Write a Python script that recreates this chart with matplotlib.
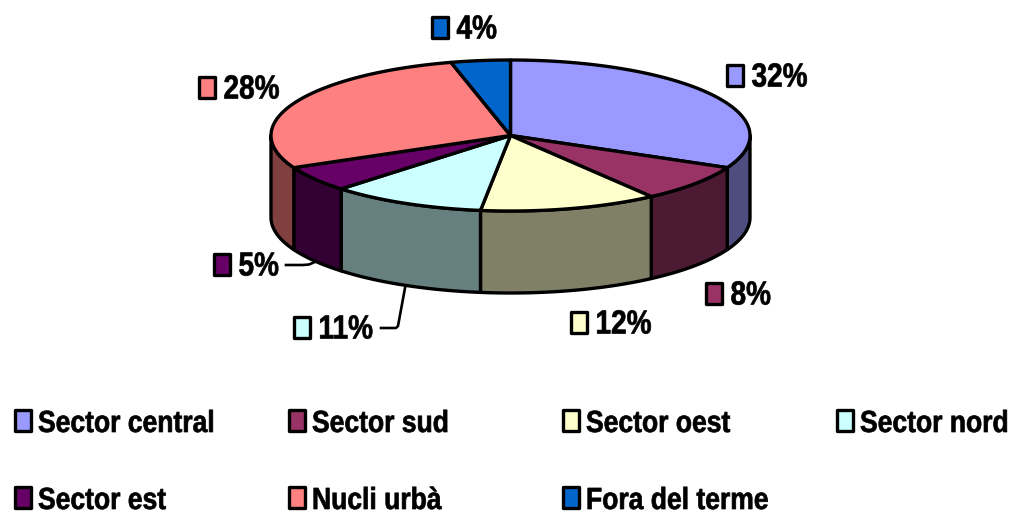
import numpy as np
import matplotlib
matplotlib.use('Agg')
import matplotlib.pyplot as plt
from matplotlib.patheffects import AbstractPathEffect
from matplotlib.transforms import Affine2D

categories = ['Sector central', 'Sector sud', 'Sector oest', 'Sector nord',
              'Sector est', 'Nucli urbà', 'Fora del terme']
values = [32, 8, 12, 10.5, 5.5, 28, 4]
pct_labels = ['32%', '8%', '12%', '11%', '5%', '28%', '4%']
colors = ['#9999FF', '#993366', '#FFFFCC', '#CCFFFF', '#660066', '#FF8080', '#0066CC']
wall_colors = ['#4D4D80', '#4D1A33', '#808066', '#668080', '#330033', '#804040', '#003366']

# pixel positions of the label swatches
label_pos = [(735, 76), (714, 294), (579, 323), (302, 328), (222, 265), (207, 88), (440, 28)]
legend_pos = [(23, 421), (297, 421), (571, 421), (845, 421),
              (23, 498), (297, 498), (571, 498)]

cx, cy, rx, ry, depth = 510.5, 135.5, 239.5, 75.5, 82
lw = 2.4

plt.rcParams['font.family'] = ['Liberation Sans', 'DejaVu Sans']


class Squeeze(AbstractPathEffect):
    # the original font is a narrow heavy one: squeeze glyphs sideways, add a thin outline
    def __init__(self, sx, stroke=0.5):
        super().__init__()
        self.sx = sx
        self.stroke = stroke

    def draw_path(self, renderer, gc, tpath, affine, rgbFace=None):
        gc0 = renderer.new_gc()
        gc0.copy_properties(gc)
        gc0.set_linewidth(self.stroke)
        gc0.set_foreground('black')
        renderer.draw_path(gc0, tpath, Affine2D().scale(self.sx, 1) + affine, rgbFace)
        gc0.restore()


def rim(a, b, n=80):
    t = np.radians(np.linspace(a, b, n))
    return cx + rx * np.sin(t), cy - ry * np.cos(t)


def swatch(ax, x, y, color):
    ax.fill([x - 8, x + 8, x + 8, x - 8], [y - 10.5, y - 10.5, y + 10.5, y + 10.5],
            facecolor=color, edgecolor='black', lw=lw, joinstyle='round', zorder=5)


fig = plt.figure(figsize=(10.1, 5.11), dpi=100)
ax = fig.add_axes([0, 0, 1, 1])
ax.set_xlim(0, 1010)
ax.set_ylim(511, 0)
ax.axis('off')

edges = np.cumsum([0] + values) * 3.6

# side walls, only the front half shows
for v0, v1, wc in zip(edges[:-1], edges[1:], wall_colors):
    a, b = max(v0, 90), min(v1, 270)
    if b <= a:
        continue
    x, y = rim(a, b)
    ax.fill(np.r_[x, x[::-1]], np.r_[y, y[::-1] + depth], facecolor=wc,
            edgecolor='black', lw=lw, joinstyle='round', zorder=2)

# top of the pie
for v0, v1, c in zip(edges[:-1], edges[1:], colors):
    x, y = rim(v0, v1)
    ax.fill(np.r_[cx, x], np.r_[cy, y], facecolor=c, edgecolor='black',
            lw=lw, joinstyle='round', zorder=3)

# leader lines
ax.plot([286, 303, 309, 316], [265, 265, 264.5, 261.5], color='black', lw=1.9, zorder=1)
ax.plot([381, 396, 398, 405], [328, 328, 326, 288], color='black', lw=1.9, zorder=1)

for (x, y), c, s in zip(label_pos, colors, pct_labels):
    swatch(ax, x, y, c)
    ax.text(x + 16.5, y + 2, s, fontsize=24, fontweight='bold', ha='left', va='center',
            color='black', zorder=5, path_effects=[Squeeze(0.84)])

for (x, y), c, name in zip(legend_pos, colors, categories):
    swatch(ax, x, y, c)
    ax.text(x + 15, y + 3, name, fontsize=22, fontweight='bold', ha='left', va='center',
            color='black', zorder=5, path_effects=[Squeeze(0.867)])

fig.savefig('out.png', dpi=100)
